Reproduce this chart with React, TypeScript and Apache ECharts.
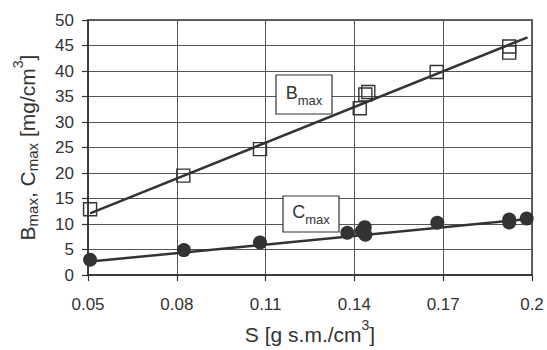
import React, { useEffect, useRef } from 'react';
import * as echarts from 'echarts';

// ---- data ----
const sB = [0.0507, 0.0822, 0.1081, 0.1418, 0.1437, 0.1447, 0.1678, 0.1923, 0.1923];
const bMax = [12.9, 19.5, 24.7, 32.7, 35.4, 35.9, 39.8, 44.8, 43.6];

const sC = [0.0507, 0.0824, 0.1081, 0.1376, 0.1425, 0.1435, 0.1437, 0.168, 0.1923, 0.1923, 0.1982];
const cMax = [3.0, 4.9, 6.4, 8.3, 8.6, 9.4, 7.9, 10.25, 10.9, 10.3, 11.1];

// fitted trend lines (end points)
const sBFit = [0.0507, 0.1985];
const bFit = [12.1, 46.6];
const sCFit = [0.0507, 0.198];
const cFit = [2.65, 10.95];

const xTickLabels = ['0.05', '0.08', '0.11', '0.14', '0.17', '0.2'];
const X_ORIGIN = 0.05; // axis starts at 0.05, ticks every 0.03
const X_STEP = 0.03;

const FONT = '"Liberation Sans", Arial, Helvetica, sans-serif';
const DARK = '#333333';

const pairs = (xs: number[], ys: number[]) => xs.map((x, i) => [x - X_ORIGIN, ys[i]]);

export default function App() {
  const ref = useRef<HTMLDivElement>(null);
  useEffect(() => {
    if (!ref.current) return;
    const chart = echarts.init(ref.current, null, { renderer: 'svg' });
    chart.setOption({
      animation: false,
      backgroundColor: '#ffffff',
      textStyle: { fontFamily: FONT },
      grid: {
        left: 88,
        right: 15,
        top: 20,
        bottom: 73,
        show: true,
        borderColor: DARK,
        borderWidth: 1.5,
        backgroundColor: 'transparent',
      },
      xAxis: {
        type: 'value',
        min: 0,
        max: 0.15,
        interval: X_STEP,
        name: '{n|S [g s.m./cm}{p|3}{n|]}',
        nameLocation: 'middle',
        nameGap: 42,
        nameTextStyle: {
          rich: {
            n: { fontSize: 21, fontFamily: FONT, color: DARK, verticalAlign: 'bottom', padding: [6, 0, 0, 0] },
            p: { fontSize: 14, fontFamily: FONT, color: DARK, verticalAlign: 'top' },
          },
        },
        axisLine: { show: true, lineStyle: { color: DARK, width: 1.5 } },
        axisTick: { show: true, inside: false, length: 6, lineStyle: { color: DARK, width: 1.2 } },
        axisLabel: {
          fontSize: 17,
          color: DARK,
          fontFamily: FONT,
          margin: 21,
          formatter: (_v: number, i: number) => xTickLabels[i] ?? '',
        },
        splitLine: { show: true, lineStyle: { color: '#555555', width: 1 } },
      },
      yAxis: {
        type: 'value',
        min: 0,
        max: 50,
        interval: 5,
        name: '{n|B}{s|max}{n|, C}{s|max}{n| [mg/cm}{p|3}{n|]}',
        nameLocation: 'middle',
        nameRotate: 90,
        nameGap: 48,
        nameTextStyle: {
          rich: {
            n: { fontSize: 21, fontFamily: FONT, color: DARK, verticalAlign: 'bottom', padding: [6, 0, 2, 0] },
            s: { fontSize: 15, fontFamily: FONT, color: DARK, verticalAlign: 'bottom' },
            p: { fontSize: 14, fontFamily: FONT, color: DARK, verticalAlign: 'top' },
          },
        },
        axisLine: { show: true, lineStyle: { color: DARK, width: 1.5 } },
        axisTick: { show: true, inside: false, length: 6, lineStyle: { color: DARK, width: 1.2 } },
        axisLabel: { fontSize: 17, color: DARK, fontFamily: FONT, margin: 14 },
        splitLine: { show: true, lineStyle: { color: '#555555', width: 1 } },
      },
      series: [
        {
          type: 'line',
          data: pairs(sBFit, bFit),
          showSymbol: false,
          symbol: 'none',
          lineStyle: { color: DARK, width: 2.5 },
          z: 3,
        },
        {
          type: 'line',
          data: pairs(sCFit, cFit),
          showSymbol: false,
          symbol: 'none',
          lineStyle: { color: DARK, width: 2.5 },
          z: 3,
        },
        {
          type: 'scatter',
          data: pairs(sB, bMax),
          symbol: 'rect',
          symbolSize: 13,
          itemStyle: { color: 'rgba(255,255,255,0)', borderColor: DARK, borderWidth: 1.4, opacity: 1 },
          z: 4,
        },
        {
          type: 'scatter',
          data: pairs(sC, cMax),
          symbol: 'circle',
          symbolSize: 14,
          itemStyle: { color: DARK, opacity: 1 },
          z: 4,
        },
      ],
      graphic: [
        {
          type: 'rect',
          shape: { x: 276, y: 75, width: 56, height: 39 },
          style: { fill: '#ffffff', stroke: DARK, lineWidth: 1.2 },
          z: 10,
        },
        {
          type: 'text',
          x: 304,
          y: 95,
          style: {
            text: '{b|B}{s|max}',
            align: 'center',
            verticalAlign: 'middle',
            rich: {
              b: { fontSize: 18, fontFamily: FONT, fill: DARK, verticalAlign: 'bottom', padding: [0, 0, 5, 0] },
              s: { fontSize: 13, fontFamily: FONT, fill: DARK, verticalAlign: 'bottom' },
            },
          },
          z: 11,
        },
        {
          type: 'rect',
          shape: { x: 283, y: 196, width: 56, height: 36 },
          style: { fill: '#ffffff', stroke: DARK, lineWidth: 1.2 },
          z: 10,
        },
        {
          type: 'text',
          x: 311,
          y: 214.5,
          style: {
            text: '{b|C}{s|max}',
            align: 'center',
            verticalAlign: 'middle',
            rich: {
              b: { fontSize: 18, fontFamily: FONT, fill: DARK, verticalAlign: 'bottom', padding: [0, 0, 5, 0] },
              s: { fontSize: 13, fontFamily: FONT, fill: DARK, verticalAlign: 'bottom' },
            },
          },
          z: 11,
        },
      ],
    });
    return () => chart.dispose();
  }, []);
  return (
    <div
      ref={ref}
      style={{ position: 'fixed', left: 0, top: 0, width: 547, height: 350, background: '#fff' }}
    />
  );
}
